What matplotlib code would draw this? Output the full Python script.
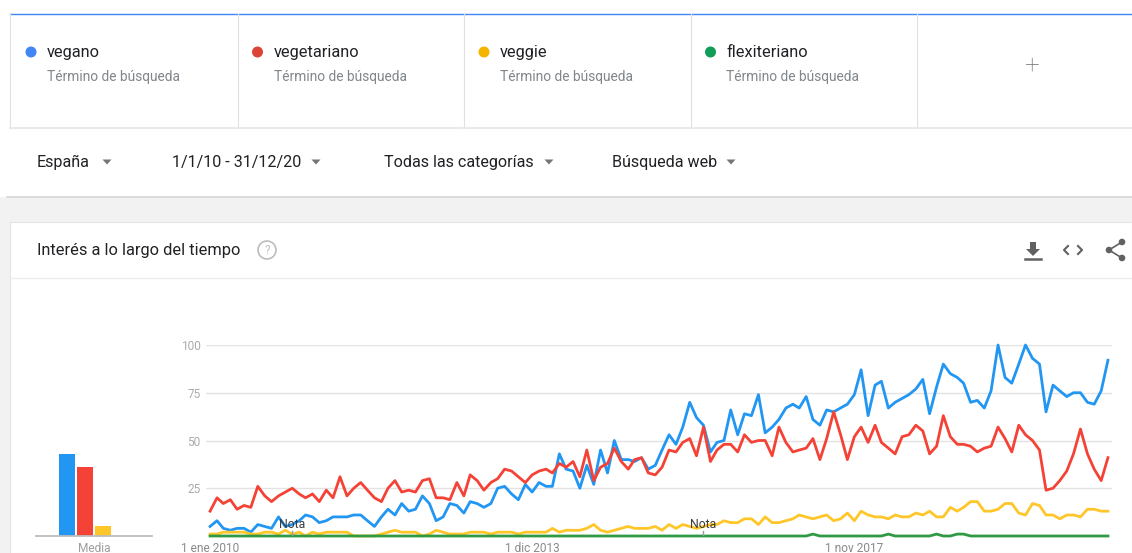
import numpy as np
import pandas as pd
import matplotlib
matplotlib.use('Agg')
import matplotlib.pyplot as plt
from matplotlib.patches import Rectangle, Circle, Polygon

plt.rcParams['font.family'] = ['Roboto', 'DejaVu Sans']

# datos (interes mensual, Espana, 2010-2020)
terminos = ['vegano', 'vegetariano', 'veggie', 'flexiteriano']
meses = pd.date_range('2010-01-01', '2020-12-01', freq='MS')

vegano = [
    5, 8, 4, 3, 4, 4, 2, 6, 5, 4, 10, 5,
    6, 8, 11, 10, 7, 8, 10, 10, 10, 11, 11, 8,
    5, 10, 14, 11, 17, 13, 14, 21, 17, 8, 10, 17,
    16, 12, 18, 17, 15, 17, 25, 26, 22, 19, 27, 23,
    28, 26, 26, 43, 35, 34, 25, 37, 27, 45, 33, 50,
    40, 40, 39, 41, 35, 37, 45, 53, 48, 57, 70, 62,
    58, 44, 49, 50, 66, 53, 64, 63, 74, 54, 57, 61,
    67, 69, 67, 73, 61, 58, 66, 65, 67, 69, 74, 87,
    63, 79, 81, 67, 70, 72, 74, 77, 82, 64, 78, 90,
    85, 83, 80, 70, 71, 67, 76, 100, 83, 80, 90, 100,
    93, 90, 65, 79, 76, 73, 75, 75, 70, 69, 76, 92,
]
vegetariano = [
    13, 20, 17, 19, 14, 16, 15, 26, 21, 18, 21, 23,
    25, 22, 20, 22, 18, 24, 20, 31, 21, 25, 28, 24,
    20, 18, 25, 29, 23, 24, 23, 29, 30, 20, 20, 19,
    28, 21, 32, 29, 24, 28, 30, 35, 34, 31, 28, 32,
    34, 35, 33, 38, 36, 39, 31, 45, 29, 36, 38, 46,
    39, 35, 40, 41, 33, 32, 36, 45, 44, 49, 51, 42,
    57, 39, 45, 48, 48, 44, 53, 49, 50, 50, 42, 57,
    49, 44, 45, 46, 51, 40, 51, 65, 53, 40, 52, 57,
    49, 58, 49, 46, 43, 52, 53, 58, 55, 43, 47, 63,
    52, 48, 48, 47, 44, 46, 47, 57, 51, 44, 58, 53,
    50, 45, 24, 25, 29, 34, 43, 56, 43, 35, 29, 41,
]
veggie = [
    1, 1, 2, 2, 2, 2, 1, 1, 2, 2, 1, 3,
    1, 2, 0, 2, 1, 2, 2, 2, 2, 0, 0, 0,
    0, 1, 2, 3, 2, 2, 2, 0, 1, 3, 2, 1,
    1, 1, 2, 2, 2, 1, 2, 2, 2, 1, 2, 2,
    2, 2, 4, 2, 3, 3, 3, 4, 6, 3, 2, 3,
    4, 5, 4, 4, 4, 5, 3, 6, 4, 6, 5, 4,
    5, 6, 6, 8, 7, 7, 9, 9, 6, 10, 7, 7,
    8, 9, 11, 10, 9, 10, 11, 8, 9, 12, 8, 13,
    11, 10, 10, 9, 11, 10, 10, 12, 11, 13, 10, 10,
    15, 13, 15, 18, 18, 13, 13, 14, 17, 17, 12, 11,
    17, 16, 11, 11, 9, 11, 11, 10, 14, 14, 13, 13,
]
flexiteriano = [
    0, 0, 0, 0, 0, 0, 0, 0, 0, 0, 0, 0,
    0, 0, 0, 0, 0, 0, 0, 0, 0, 0, 0, 0,
    0, 0, 0, 0, 0, 0, 0, 0, 0, 0, 0, 0,
    0, 0, 0, 0, 0, 0, 0, 0, 0, 0, 0, 0,
    0, 0, 0, 0, 0, 0, 0, 0, 0, 0, 0, 0,
    0, 0, 0, 0, 0, 0, 0, 0, 0, 0, 0, 0,
    0, 0, 0, 0, 0, 0, 0, 0, 0, 0, 0, 0,
    0, 0, 0, 0, 1, 0, 0, 0, 0, 0, 0, 0,
    0, 0, 0, 1, 0, 0, 0, 0, 0, 0, 1, 0,
    0, 1, 1, 0, 0, 0, 0, 0, 0, 0, 0, 0,
    0, 0, 0, 0, 0, 0, 0, 0, 0, 0, 0, 0,
]
media = [43, 36, 5, 0]

fechas_ticks = ['2010-01-01', '2013-12-01', '2017-11-01']
etiquetas_ticks = ['1 ene 2010', '1 dic 2013', '1 nov 2017']
notas = ['2011-01-01', '2016-01-01']

colores_punto = ['#4285f4', '#db4437', '#f4b400', '#0f9d58']
colores_linea = ['#2196f3', '#f44336', '#ffc629', '#2f9a44']

W, H = 1132, 553
fig = plt.figure(figsize=(W / 100, H / 100), dpi=100)

# capa de fondo en pixeles (y hacia abajo)
bg = fig.add_axes([0, 0, 1, 1])
bg.set_xlim(0, W)
bg.set_ylim(H, 0)
bg.axis('off')

bg.add_patch(Rectangle((0, 197), W, H - 197, color='#f2f2f2', lw=0))
bg.add_patch(Rectangle((10, 222), W - 10, H - 222, facecolor='white', edgecolor='#e4e4e4', lw=0.8))
bg.plot([10, W], [14, 14], color='#4285f4', lw=1)
for x in [10, 238, 464, 691, 917]:
    bg.plot([x, x], [14, 128], color='#e0e0e0', lw=0.8)
bg.plot([10, W], [128, 128], color='#e6e6e6', lw=1.2)
bg.plot([7, W], [196.5, 196.5], color='#d6d6d6', lw=1.2)
bg.plot([10, W], [278, 278], color='#ececec', lw=1)

# tarjetas de terminos
for k, t in enumerate(terminos):
    x0 = 31 + k * 226.5
    bg.add_patch(Circle((x0, 52), 5.5, color=colores_punto[k], lw=0))
    bg.text(x0 + 16, 52.5, t, fontsize=11.8, color='#202124', va='center', ha='left')
    bg.text(x0 + 16, 77, 'Término de búsqueda', fontsize=9.9, color='#80868b', va='center', ha='left')
bg.text(1031, 66, '+', fontsize=19, color='#6f6f6f', va='center', ha='center', fontweight='light')

# filtros
filtros = [('España', 37, 107), ('1/1/10 - 31/12/20', 172, 316),
           ('Todas las categorías', 384, 549), ('Búsqueda web', 612, 731)]
for txt, x, xt in filtros:
    bg.text(x, 162.5, txt, fontsize=11.6, color='#202124', va='center', ha='left')
    bg.add_patch(Polygon([(xt - 4.5, 159.5), (xt + 4.5, 159.5), (xt, 164.5)], color='#757575', lw=0))

# cabecera de la tarjeta
bg.text(37, 250.5, 'Interés a lo largo del tiempo', fontsize=11.8, color='#202124', va='center', ha='left')
bg.add_patch(Circle((267, 250), 9, facecolor='none', edgecolor='#bdbdbd', lw=1.2))
bg.text(267, 250.5, '?', fontsize=8.5, color='#bdbdbd', va='center', ha='center')

# iconos
ic = '#616161'
bg.add_patch(Polygon([(1030, 242), (1036, 242), (1036, 249), (1040, 249), (1033, 256),
                      (1026, 249), (1030, 249)], color=ic, lw=0))
bg.plot([1025, 1041], [259, 259], color=ic, lw=1.8)
bg.plot([1068, 1064, 1068], [246, 250, 254], color=ic, lw=1.5)
bg.plot([1078, 1082, 1078], [246, 250, 254], color=ic, lw=1.5)
bg.plot([1122, 1109, 1122], [242, 250, 258], color=ic, lw=1.2)
for cx, cy in [(1122, 242), (1109, 250), (1122, 258)]:
    bg.add_patch(Circle((cx, cy), 3.3, color=ic, lw=0))

# grafico de lineas
ax = fig.add_axes([206 / W, (H - 536) / H, 906 / W, 191 / H])
ax.set_facecolor('none')
series = [vegano, vegetariano, veggie, flexiteriano]
for k, s in enumerate(series):
    ax.plot(meses, s, color=colores_linea[k], lw=2.0, clip_on=False, zorder=3)
pad = pd.Timedelta(days=18)
ax.set_xlim(meses[0] - pad, meses[-1] + pad)
ax.set_ylim(0, 100)
ax.set_yticks([25, 50, 75, 100])
ax.yaxis.grid(True, color='#e3e3e3', lw=1)
ax.set_axisbelow(True)
ax.set_xticks(pd.to_datetime(fechas_ticks))
ax.set_xticklabels(etiquetas_ticks)
ax.tick_params(axis='y', length=0, pad=4, labelsize=8.6, labelcolor='#aaaaaa')
ax.tick_params(axis='x', length=0, pad=4, labelsize=8.6, labelcolor='#8a8a8a')
for sp in ax.spines.values():
    sp.set_visible(False)
for n in notas:
    d = pd.Timestamp(n)
    ax.plot([d, d], [0, 2.5], color='#9e9e9e', lw=1, zorder=4)
    ax.text(d, 6, 'Nota', fontsize=8.8, color='#3c3c3c', ha='center', va='center', zorder=5)

# barras de media
bx = fig.add_axes([36 / W, (H - 536) / H, 116 / W, 191 / H])
bx.set_facecolor('none')
bx.bar(np.arange(4), media, width=0.89, color=colores_linea)
bx.set_xlim(-31 / 18, 85 / 18)
bx.set_ylim(0, 100)
bx.set_yticks([])
bx.set_xticks([1.5])
bx.set_xticklabels(['Media'])
bx.tick_params(axis='x', length=0, pad=4, labelsize=8.6, labelcolor='#9e9e9e')
for sp in ['top', 'left', 'right']:
    bx.spines[sp].set_visible(False)
bx.spines['bottom'].set_color('#bdbdbd')
bx.spines['bottom'].set_linewidth(1.3)

fig.savefig('out.png', dpi=100)
